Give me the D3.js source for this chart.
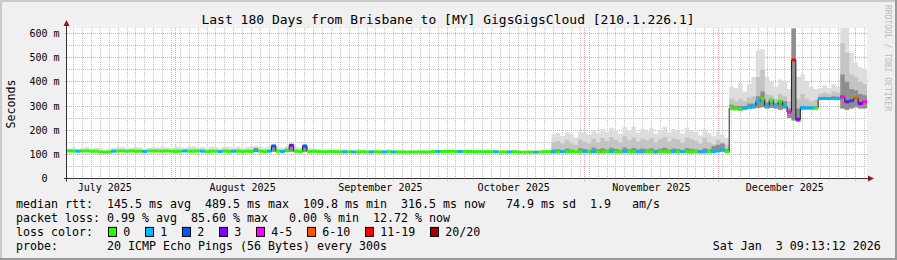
<!DOCTYPE html>
<html>
<head>
<meta charset="utf-8">
<script src="https://cdn.jsdelivr.net/npm/d3@7"></script>
<style>
  html, body { margin: 0; padding: 0; background: #fff; }
  svg text { font-family: "DejaVu Sans Mono", monospace; white-space: pre; }
</style>
</head>
<body>
<svg id="chart" width="897" height="260"></svg>
<script>
/* CONSTANTS */
const width = 897, height = 260,
      plot = {left: 67, right: 867, top: 28, bottom: 178.5};

const titleText = "Last 180 Days from Brisbane to [MY] GigsGigsCloud [210.1.226.1]";
const startTime = Date.UTC(2025, 6, 7, 12, 0);   // first daily bucket
const nDays = 180;

/* DATA: one value per day, ms */
const medianMs = [
  114,114,113,114,114,113,113,110,109,110,
  113,114,114,113,114,113,113,112,114,114,
  114,113,114,113,112,113,114,113,113,114,
  113,112,113,113,112,113,112,113,113,112,
  113,112,116,113,112,113,135,113,112,118,
  138,113,112,134,112,113,112,111,111,112,
  111,111,110,111,110,110,111,110,110,111,
  110,110,111,110,110,110,109,110,110,110,
  110,110,112,112,112,112,113,112,112,112,
  112,111,111,111,111,111,111,110,110,110,
  111,110,109,109,109,109,110,111,111,110,
  110,111,110,111,112,110,111,110,111,110,
  110,111,111,110,110,111,110,111,110,110,
  111,110,110,111,110,110,111,110,111,110,
  110,111,110,110,111,112,114,118,112,292,
  290,288,292,296,300,320,330,300,325,305,
  320,300,275,490,245,294,292,292,292,331,
  331,331,331,331,338,318,322,333,310,318
];
// lost pings out of 20
const lossCount = [
  0,0,1,0,0,0,0,0,0,0,
  1,0,0,0,0,0,0,1,0,0,
  0,0,0,0,0,0,1,0,0,0,
  1,0,0,0,1,0,0,1,0,0,
  0,0,1,0,0,1,2,0,1,0,
  3,0,0,2,0,0,0,0,0,0,
  0,0,1,0,1,0,0,0,1,0,
  0,1,0,1,0,0,0,0,0,0,
  0,0,0,1,0,0,0,0,1,0,
  0,0,0,0,0,0,1,0,0,1,
  0,0,0,0,0,1,0,0,0,1,
  0,1,0,0,0,0,1,0,1,0,
  0,0,1,0,0,1,0,0,1,1,
  0,0,1,0,0,0,1,0,1,0,
  0,0,1,1,0,1,1,1,0,0,
  0,0,1,1,1,1,0,1,0,1,
  0,1,4,12,3,1,1,1,0,1,
  1,1,1,1,4,3,2,7,3,4
];
// smoke: highest ping
const smokeHi = [
  124,128,122,126,130,124,127,126,120,124,
  126,129,131,125,127,130,128,124,126,129,
  127,131,128,126,132,129,127,130,133,128,
  130,127,131,129,126,132,130,128,131,127,
  129,131,136,130,128,131,140,129,127,132,
  142,130,128,138,126,124,121,119,120,118,
  121,120,123,118,117,122,119,118,120,117,
  119,118,121,117,118,120,117,118,116,119,
  118,117,120,119,118,121,118,117,119,118,
  119,117,118,120,117,118,119,117,118,117,
  118,117,116,118,117,116,117,118,117,182,
  188,176,192,185,170,195,188,180,200,186,
  205,192,210,198,185,212,200,215,190,204,
  196,208,185,200,214,190,205,198,186,210,
  200,192,178,206,188,175,195,182,168,380,
  375,395,360,390,420,530,535,420,400,380,
  410,400,370,630,420,430,400,380,370,375,
  385,375,390,380,630,630,520,480,460,450
];
// smoke: upper middle pings
const smokeMid = [
  118,119,117,118,120,118,119,116,114,116,
  119,120,121,118,119,120,119,117,119,120,
  119,121,120,118,122,120,119,121,122,120,
  121,119,121,120,118,122,121,120,121,119,
  120,121,128,121,119,121,137,120,119,124,
  140,121,119,136,118,117,116,115,115,114,
  115,115,116,114,114,115,115,114,115,114,
  114,114,115,114,114,115,113,114,113,114,
  114,114,116,116,116,117,116,115,116,116,
  116,115,115,115,115,115,115,114,114,114,
  115,114,113,113,113,113,114,115,115,150,
  155,145,160,148,140,162,152,146,165,150,
  168,155,172,160,150,175,158,170,152,165,
  158,168,150,162,172,152,166,160,148,170,
  162,155,145,168,150,142,160,150,140,330,
  320,330,320,335,340,420,450,350,345,330,
  350,340,320,630,330,350,330,320,325,350,
  355,350,360,355,560,520,430,420,400,390
];
// smoke: pings near the median
const smokeDark = [
  115,115,114,115,115,114,114,111,110,111,
  114,115,115,114,115,114,114,113,115,115,
  115,114,115,114,113,114,115,114,114,115,
  114,113,114,114,113,114,113,114,114,113,
  114,113,126,114,113,114,136,114,113,119,
  139,114,113,135,113,114,113,112,112,113,
  112,112,111,112,111,111,112,111,111,112,
  111,111,112,111,111,111,110,111,111,111,
  111,111,113,113,113,113,114,113,113,113,
  113,112,112,112,112,112,112,111,111,111,
  112,111,110,110,110,110,111,112,112,120,
  121,118,124,120,117,126,122,119,128,121,
  125,120,127,122,119,128,121,126,120,124,
  121,125,119,123,127,120,124,122,118,126,
  123,120,118,125,121,135,140,145,122,305,
  300,300,300,310,310,340,360,315,320,310,
  325,320,290,620,290,300,300,298,300,335,
  338,336,340,338,430,400,370,365,350,345
];
// smoke: lowest ping
const smokeLo = [
  111,111,110,111,111,110,110,107,106,107,
  110,111,111,110,111,110,110,109,111,111,
  111,110,111,110,109,110,111,110,110,111,
  110,109,110,110,109,110,109,110,110,109,
  110,109,110,110,109,110,111,110,109,110,
  111,110,109,111,109,110,109,108,108,109,
  108,108,107,108,107,107,108,107,107,108,
  107,107,108,107,107,107,106,107,107,107,
  107,107,109,109,109,109,110,109,109,109,
  109,108,108,108,108,108,108,107,107,107,
  108,107,106,106,106,106,107,108,108,107,
  107,108,107,108,109,107,108,107,108,107,
  107,108,108,107,107,108,107,108,107,107,
  108,107,107,108,107,107,108,107,108,107,
  107,108,107,107,108,109,110,112,108,285,
  282,280,285,288,290,292,295,290,292,290,
  285,290,250,240,235,285,287,287,287,325,
  326,326,326,326,290,285,290,295,290,290
];

const lossLabels = ["0", "1", "2", "3", "4-5", "6-10", "11-19", "20/20"];
const lossUpper  = [0, 1, 2, 3, 5, 10, 19, 20];
const lossColors = ["#26ff00", "#00b8ff", "#0059ff", "#7e00ff", "#ff00ff", "#ff5500", "#ff0000", "#a10000"];

const yTicks = [0, 100, 200, 300, 400, 500, 600];

const statLines = [
  "median rtt:  145.5 ms avg  489.5 ms max  109.8 ms min  316.5 ms now   74.9 ms sd  1.9   am/s",
  "packet loss: 0.99 % avg  85.60 % max   0.00 % min  12.72 % now"
];
const probeText = "probe:       20 ICMP Echo Pings (56 Bytes) every 300s";
const stampText = "Sat Jan  3 09:13:12 2026";

/* BUILD ROWS */
const dayMs = 864e5;
const days = d3.range(nDays).map(i => ({
  t: new Date(startTime + i * dayMs),
  t1: new Date(startTime + (i + 1) * dayMs),
  med: medianMs[i], loss: lossCount[i],
  hi: smokeHi[i], mid: smokeMid[i], dk: smokeDark[i], lo: smokeLo[i]
}));
const endDate = new Date(startTime + nDays * dayMs);
const stepRows = days.concat([Object.assign({}, days[nDays - 1], {t: endDate})]);

/* SCALES */
const xScale = d3.scaleUtc()
  .domain([new Date(startTime), endDate])
  .range([plot.left, plot.right]);
const yScale = d3.scaleLinear()
  .domain([0, 600])
  .range([plot.bottom, 33.5]);
const lossColor = n => lossColors[lossUpper.findIndex(u => n <= u)];
const snap = v => Math.round(v - 0.5) + 0.5;

const svg = d3.select("#chart");

// frame
svg.append("rect").attr("width", width).attr("height", height).attr("fill", "#f0f0f0");
svg.append("rect").attr("width", width).attr("height", 2).attr("fill", "#cbcbcb");
svg.append("rect").attr("width", 2).attr("height", height).attr("fill", "#cbcbcb");
svg.append("rect").attr("y", height - 2).attr("width", width).attr("height", 2).attr("fill", "#999");
svg.append("rect").attr("x", width - 2).attr("width", 2).attr("height", height).attr("fill", "#999");

// canvas
svg.append("rect")
  .attr("x", plot.left).attr("y", plot.top)
  .attr("width", plot.right - plot.left).attr("height", plot.bottom - plot.top)
  .attr("fill", "#fff");

svg.append("clipPath").attr("id", "clip")
  .append("rect")
  .attr("x", plot.left).attr("y", plot.top)
  .attr("width", plot.right - plot.left).attr("height", plot.bottom - plot.top);

/* GRID */
const grid = svg.append("g");
const minorColor = "#c2c2c2", majorColor = "#e6a6a6";

// horizontal minor every 50 ms
const hMinor = d3.range(50, 601, 50).filter(v => v % 100 !== 0);
grid.selectAll("line.hmin").data(hMinor).join("line")
  .attr("class", "hmin")
  .attr("x1", plot.left).attr("x2", plot.right)
  .attr("y1", d => snap(yScale(d))).attr("y2", d => snap(yScale(d)))
  .attr("stroke", minorColor).attr("stroke-dasharray", "1,1");

// vertical minor every 2 days
const vMinor = d3.utcDay.range(new Date(startTime), endDate)
  .filter(d => Math.round(d / dayMs) % 2 === 0);
grid.selectAll("line.vmin").data(vMinor).join("line")
  .attr("class", "vmin")
  .attr("x1", d => snap(xScale(d))).attr("x2", d => snap(xScale(d)))
  .attr("y1", plot.top).attr("y2", plot.bottom + 2)
  .attr("stroke", minorColor).attr("stroke-dasharray", "1,1");

// major lines
const hMajor = yTicks.filter(v => v > 0);
grid.selectAll("line.hmaj").data(hMajor).join("line")
  .attr("class", "hmaj")
  .attr("x1", plot.left - 2).attr("x2", plot.right + 2)
  .attr("y1", d => snap(yScale(d))).attr("y2", d => snap(yScale(d)))
  .attr("stroke", majorColor).attr("stroke-dasharray", "1,1");

const months = d3.utcMonth.range(new Date(startTime), endDate);
grid.selectAll("line.vmaj").data(months).join("line")
  .attr("class", "vmaj")
  .attr("x1", d => snap(xScale(d))).attr("x2", d => snap(xScale(d)))
  .attr("y1", plot.top).attr("y2", plot.bottom + 3)
  .attr("stroke", majorColor).attr("stroke-dasharray", "1,1");

/* SMOKE */
const plotG = svg.append("g").attr("clip-path", "url(#clip)");
const band = top => d3.area()
  .curve(d3.curveStepAfter)
  .x(d => xScale(d.t))
  .y0(d => yScale(d.lo))
  .y1(d => yScale(d[top]));

plotG.append("path").datum(stepRows).attr("d", band("hi")).attr("fill", "#dddddd");
plotG.append("path").datum(stepRows).attr("d", band("mid")).attr("fill", "#c4c4c4");
plotG.append("path").datum(stepRows).attr("d", band("dk")).attr("fill", "#8e8e8e");

/* MEDIAN */
plotG.append("path").datum(stepRows)
  .attr("d", d3.line().curve(d3.curveStepAfter).x(d => xScale(d.t)).y(d => yScale(d.med)))
  .attr("fill", "none").attr("stroke", "#202020").attr("stroke-width", 1);

plotG.selectAll("line.med").data(days).join("line")
  .attr("class", "med")
  .attr("x1", d => xScale(d.t)).attr("x2", d => xScale(d.t1))
  .attr("y1", d => yScale(d.med)).attr("y2", d => yScale(d.med))
  .attr("stroke", d => lossColor(d.loss)).attr("stroke-width", 3);

/* AXES */
const axisColor = "#333", arrowColor = "#8e1a1a";
svg.append("line")
  .attr("x1", plot.left - 3).attr("x2", plot.right + 2)
  .attr("y1", plot.bottom).attr("y2", plot.bottom)
  .attr("stroke", axisColor);
svg.append("line")
  .attr("x1", plot.left - 0.5).attr("x2", plot.left - 0.5)
  .attr("y1", plot.bottom + 3).attr("y2", plot.top - 3)
  .attr("stroke", axisColor);
svg.append("path")
  .attr("d", `M${plot.left - 3.5},${plot.top - 2}L${plot.left - 0.5},${plot.top - 8}L${plot.left + 2.5},${plot.top - 2}Z`)
  .attr("fill", arrowColor);
svg.append("path")
  .attr("d", `M${plot.right + 1},${plot.bottom - 3}L${plot.right + 7},${plot.bottom}L${plot.right + 1},${plot.bottom + 3}Z`)
  .attr("fill", arrowColor);

// y tick labels
const axisFont = 10, axisChar = axisFont * 0.602;
svg.selectAll("text.ylab").data(yTicks).join("text")
  .attr("class", "ylab")
  .attr("x", d => d === 0 ? 59.5 - 2 * axisChar : 59.5)
  .attr("y", d => yScale(d))
  .attr("dy", "0.35em")
  .attr("text-anchor", "end")
  .attr("font-size", axisFont)
  .text(d => d === 0 ? "0" : d + " m");

// month labels centred mid-month
const monthLabels = d3.utcMonth.range(d3.utcMonth.floor(new Date(startTime)), endDate)
  .map(m => ({m, c: d3.utcDay.offset(m, 15)}))
  .filter(d => d.c < endDate);
svg.selectAll("text.xlab").data(monthLabels).join("text")
  .attr("class", "xlab")
  .attr("x", d => xScale(d.c))
  .attr("y", 191)
  .attr("text-anchor", "middle")
  .attr("font-size", axisFont)
  .text(d => d3.utcFormat("%B %Y")(d.m));

svg.append("text")
  .attr("transform", "translate(10.7,104) rotate(-90)")
  .attr("text-anchor", "middle").attr("dy", "0.35em")
  .attr("font-size", 11.63)
  .text("Seconds");

/* TITLE + WATERMARK */
svg.append("text")
  .attr("x", 448).attr("y", 23.5)
  .attr("text-anchor", "middle")
  .attr("font-size", 13)
  .text(titleText);

svg.append("text")
  .attr("transform", "translate(887,5) rotate(90)")
  .attr("dominant-baseline", "central")
  .attr("font-size", 8)
  .attr("fill", "#bbb")
  .text("RRDTOOL / TOBI OETIKER");

/* LEGEND */
const legFont = 11.63, rowY = [207.5, 221.7, 235.9, 250.1];
statLines.forEach((s, i) => {
  svg.append("text").attr("x", 16).attr("y", rowY[i]).attr("font-size", legFont).text(s);
});
svg.append("text").attr("x", 16).attr("y", rowY[2]).attr("font-size", legFont).text("loss color:");

let lx = 108;
lossLabels.forEach((lab, i) => {
  svg.append("rect")
    .attr("x", lx + 0.5).attr("y", rowY[2] - 8.5)
    .attr("width", 8).attr("height", 9)
    .attr("fill", lossColors[i]).attr("stroke", "#000");
  const t = svg.append("text")
    .attr("x", lx + 15.3).attr("y", rowY[2])
    .attr("font-size", legFont).text(lab);
  lx += 15.3 + t.node().getComputedTextLength() + 14.7;
});

svg.append("text").attr("x", 16).attr("y", rowY[3]).attr("font-size", legFont).text(probeText);
svg.append("text").attr("x", 880.7).attr("y", rowY[3])
  .attr("text-anchor", "end").attr("font-size", legFont).text(stampText);
</script>
</body>
</html>
